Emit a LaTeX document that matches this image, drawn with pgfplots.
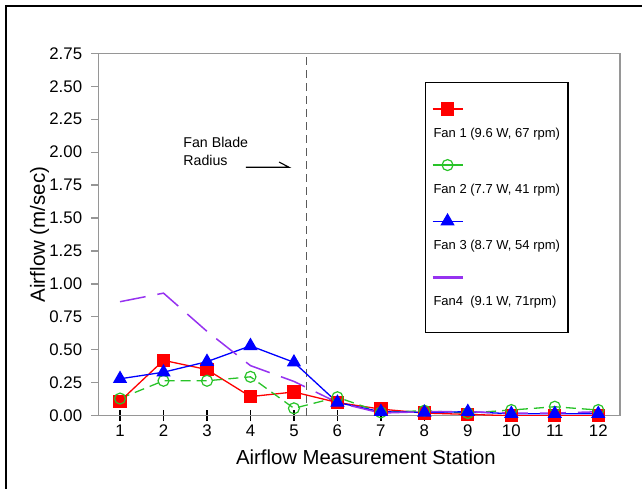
\documentclass[border=0pt]{standalone}
\usepackage{pgfplots}
\pgfplotsset{compat=1.18}
\usepackage{fontspec}
\setmainfont{Liberation Sans}
\definecolor{fanred}{RGB}{255,0,0}
\definecolor{fangreen}{RGB}{40,195,40}
\definecolor{fanblue}{RGB}{0,0,255}
\definecolor{fanpurple}{RGB}{150,50,240}
\definecolor{axgray}{RGB}{150,150,150}
\definecolor{refgray}{RGB}{90,90,90}
\begin{document}
\begin{tikzpicture}
\useasboundingbox (0,0) rectangle (642bp,489bp);
\draw[line width=1.3bp] (6bp,0) -- (6bp,483bp) -- (642bp,483bp);
\begin{axis}[
  at={(98.3bp,73.3bp)}, anchor=south west, scale only axis,
  width=521.7bp, height=362.4bp,
  xmin=0.5, xmax=12.5, ymin=0, ymax=2.75,
  xtick={1,2,3,4,5,6,7,8,9,10,11,12},
  minor xtick={1,2,3,4,5,6,7,8,9,10,11,12},
  ytick={0,0.25,0.5,0.75,1,1.25,1.5,1.75,2,2.25,2.5,2.75},
  tick pos=left,
  axis line style={axgray, line width=1.3bp},
  tick align=outside, major tick length=7bp, minor tick length=10.7bp,
  every major x tick/.style={draw=none},
  every minor x tick/.style={draw=black, line width=1.3bp, yshift=5.35bp},
  every major y tick/.style={draw=axgray, line width=1.2bp},
  /pgf/number format/assume math mode=true,
  tick label style={font=\fontsize{16.8bp}{18bp}\selectfont},
  xticklabel style={inner sep=0pt, yshift=-2.3bp},
  yticklabel style={inner sep=0pt, xshift=-9bp, /pgf/number format/.cd, fixed, fixed zerofill, precision=2},
  xlabel={Airflow Measurement Station},
  ylabel={Airflow (m/sec)},
  every axis x label/.style={at={(axis description cs:0.513,-0.1333)}, anchor=base, font=\fontsize{20.3bp}{22bp}\selectfont},
  every axis y label/.style={at={(axis description cs:-0.1022,0.5)}, rotate=90, anchor=base, font=\fontsize{20.5bp}{22bp}\selectfont},
  legend cell align=left,
  legend image code/.code={%
    \draw[mark repeat=2, mark phase=2, #1, solid, overlay] plot coordinates {(-1bp,14.4bp) (14bp,14.4bp) (29bp,14.4bp)};%
  },
  legend style={at={(0.626,0.921)}, anchor=north west, draw=black, line width=1.3bp,
    inner xsep=8bp, inner ysep=19.7bp, row sep=14.2bp, column sep=0pt,
    cells={anchor=west},
    nodes={inner xsep=0pt, inner ysep=0pt, text height=35bp, text depth=7bp, font=\fontsize{13bp}{15bp}\selectfont}},
]
\draw[refgray, line width=1.4bp, dash pattern=on 8bp off 5bp] (axis cs:5.29,0) -- (axis cs:5.29,2.75);

\addplot[fanred, line width=1.3bp, mark=square*, mark size=6bp] coordinates {
 (1,0.11) (2,0.42) (3,0.35) (4,0.145) (5,0.18) (6,0.10) (7,0.05) (8,0.02) (9,0.01) (10,0.0) (11,0.0) (12,0.0)};
\addlegendentry{Fan 1 (9.6 W, 67 rpm)}

\addplot[fangreen, line width=1.3bp, dash pattern=on 10bp off 6bp, mark=o, mark size=5.5bp, mark options={solid, line width=1.2bp}] coordinates {
 (1,0.13) (2,0.265) (3,0.265) (4,0.295) (5,0.056) (6,0.14) (7,0.025) (8,0.038) (9,0.02) (10,0.043) (11,0.068) (12,0.043)};
\addlegendentry{Fan 2 (7.7 W, 41 rpm)}

\addplot[fanblue, line width=1.3bp, mark=triangle*, mark size=7bp] coordinates {
 (1,0.28) (2,0.33) (3,0.41) (4,0.53) (5,0.405) (6,0.10) (7,0.03) (8,0.025) (9,0.03) (10,0.015) (11,0.015) (12,0.015)};
\addlegendentry{Fan 3 (8.7 W, 54 rpm)}

\addplot[fanpurple, line width=1.5bp, dash pattern=on 26bp off 12bp, forget plot] coordinates {
 (1,0.865) (2,0.93) (3,0.64) (4,0.38) (5,0.26) (6,0.10) (7,0.02) (8,0.03) (9,0.03) (10,0.02) (11,0.02) (12,0.03)};
\addlegendimage{draw=fanpurple, line width=2.5bp, no marks}
\addlegendentry{Fan4\ \ (9.1 W, 71rpm)}

\node[anchor=base west, inner sep=0pt, font=\fontsize{14.2bp}{16bp}\selectfont] at (axis cs:2.453,2.036) {Fan Blade};
\node[anchor=base west, inner sep=0pt, font=\fontsize{14.2bp}{16bp}\selectfont] at (axis cs:2.453,1.896) {Radius};
\draw[black, line width=1.1bp] (axis cs:3.893,1.885) -- (axis cs:4.888,1.885) -- (axis cs:4.658,1.925);
\end{axis}
\end{tikzpicture}
\end{document}
